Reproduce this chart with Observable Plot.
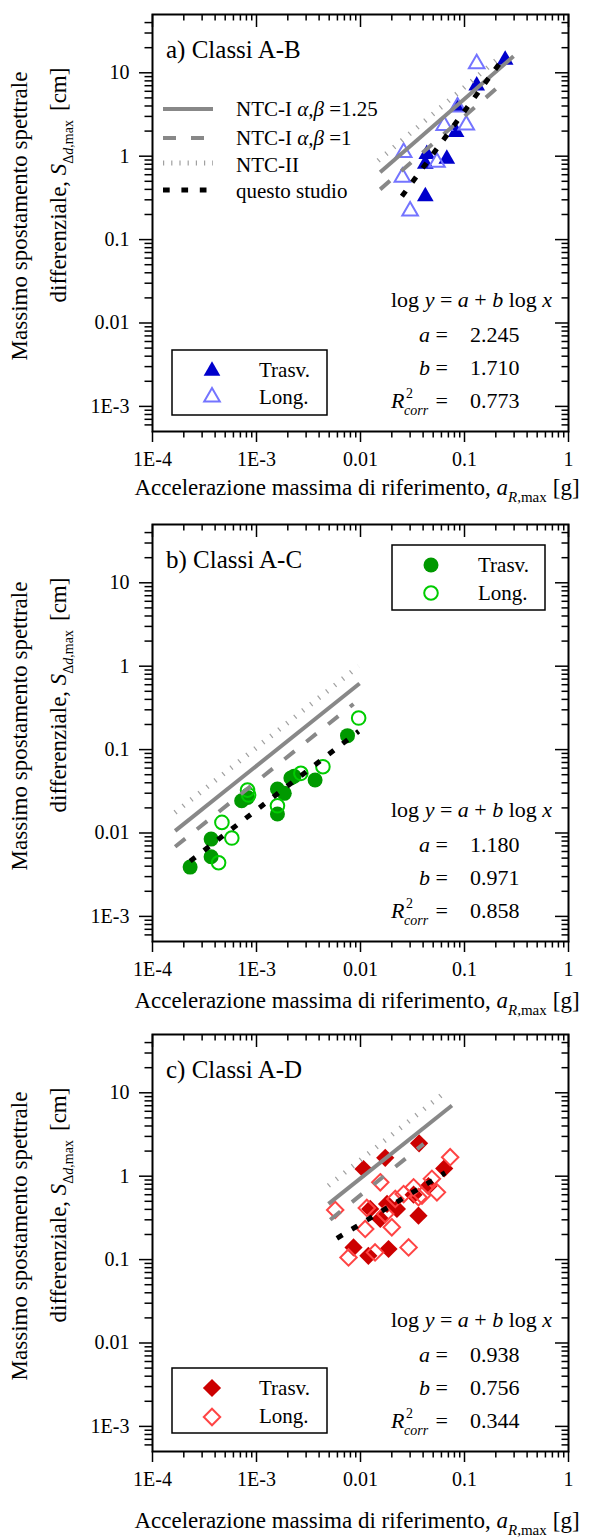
<!DOCTYPE html>
<html><head><meta charset="utf-8">
<script src="https://cdn.jsdelivr.net/npm/d3@7"></script>
<script src="https://cdn.jsdelivr.net/npm/@observablehq/plot@0.6"></script>
<style>
body{margin:0;background:#fff;width:593px;}
#chart svg{display:block;background:#fff}
#chart svg text{font-family:"Liberation Serif","Times New Roman",Times,"DejaVu Serif",serif !important;}
</style></head><body><div id="chart"></div>
<script>
// ---------- axis ticks ----------
const xTicks = [1e-4, 1e-3, 0.01, 0.1, 1];
const xTickLabels = ["1E-4", "1E-3", "0.01", "0.1", "1"];
const yTicks = [1e-3, 0.01, 0.1, 1, 10];
const yTickLabels = ["1E-3", "0.01", "0.1", "1", "10"];

// ---------- texts ----------
const panelTitles = ["a) Classi A-B", "b) Classi A-C", "c) Classi A-D"];
const fitA = ["2.245", "1.180", "0.938"];
const fitB = ["1.710", "0.971", "0.756"];
const fitR2 = ["0.773", "0.858", "0.344"];
const seriesNames = ["Trasv.", "Long."];
const lineNames = ["=1.25", "=1", "NTC-II", "questo studio"];

// ---------- panel a (Classi A-B) ----------
const aTrasvX = [0.246, 0.131, 0.0857, 0.083, 0.0434, 0.042, 0.0676, 0.042];
const aTrasvY = [14.3, 7.0, 3.9, 1.94, 1.06, 0.81, 0.93, 0.33];
const aLongX = [0.131, 0.0857, 0.0638, 0.104, 0.026, 0.0253, 0.0543, 0.030];
const aLongY = [12.8, 3.9, 2.33, 2.37, 1.11, 0.56, 0.845, 0.22];
const aNtc125X = [0.01545, 0.296], aNtc125Y = [0.64, 15.8];
const aNtc1X = [0.01545, 0.229], aNtc1Y = [0.40, 7.4];
const aNtc2X = [0.0148, 0.2], aNtc2Y = [0.885, 14];
const aFitX = [0.025, 0.246], aFitY = [0.33, 16];

// ---------- panel b (Classi A-C) ----------
const bTrasvX = [2.30e-4, 3.66e-4, 3.66e-4, 7.2e-4, 8.2e-4, 1.59e-3, 1.59e-3, 1.85e-3, 2.14e-3, 2.3e-3, 3.66e-3, 7.5e-3];
const bTrasvY = [0.0039, 0.00845, 0.0052, 0.0244, 0.0267, 0.0169, 0.0337, 0.0299, 0.0456, 0.048, 0.0432, 0.147];
const bLongX = [9.6e-3, 4.35e-3, 2.67e-3, 8.2e-4, 8.4e-4, 1.59e-3, 4.65e-4, 5.79e-4, 4.32e-4];
const bLongY = [0.239, 0.0624, 0.0519, 0.0327, 0.0285, 0.0212, 0.0134, 0.0087, 0.0044];
const bNtc125X = [1.65e-4, 9.8e-3], bNtc125Y = [0.0106, 0.62];
const bNtc1X = [1.65e-4, 8.57e-3], bNtc1Y = [0.00684, 0.352];
const bNtc2X = [1.65e-4, 9.6e-3], bNtc2Y = [0.0176, 1.0];
const bFitX = [2.3e-4, 9.6e-3], bFitY = [0.0046, 0.166];

// ---------- panel c (Classi A-D) ----------
const cTrasvX = [0.0366, 0.0173, 0.0107, 0.0638, 0.045, 0.0324, 0.0124, 0.0155, 0.0224, 0.018, 0.0361, 0.00857, 0.0119, 0.0186];
const cTrasvY = [2.48, 1.66, 1.22, 1.24, 0.76, 0.6, 0.405, 0.307, 0.405, 0.465, 0.336, 0.14, 0.111, 0.134];
const cLongX = [0.0728, 0.0155, 0.00571, 0.0115, 0.0173, 0.02, 0.0111, 0.0216, 0.026, 0.0324, 0.039, 0.0486, 0.0543, 0.029, 0.00767, 0.0138, 0.0361];
const cLongY = [1.69, 0.845, 0.394, 0.416, 0.352, 0.244, 0.233, 0.533, 0.61, 0.735, 0.585, 0.93, 0.64, 0.14, 0.106, 0.122, 0.56];
const cNtc125X = [0.00492, 0.0757], cNtc125Y = [0.465, 7.03];
const cNtc1X = [0.00512, 0.0404], cNtc1Y = [0.30, 2.44];
const cNtc2X = [0.00492, 0.0678], cNtc2Y = [0.77, 10.6];
const cFitX = [0.00593, 0.0652], cFitY = [0.18, 1.1];

// ---------- helpers ----------
const zip = (xs, ys) => xs.map((x, i) => ({x, y: ys[i]}));
const F = "Liberation Serif";
const lbl = (ticks, labels) => d => labels[ticks.findIndex(t => Math.abs(t - d) / t < 1e-6)];
const minorX = [1e-4, 1e-3, 1e-2, 1e-1].flatMap(d => [2,3,4,5,6,7,8,9].map(k => k * d));
const minorY = [1e-4, 1e-3, 1e-2, 1e-1, 1, 10].flatMap(d => [2,3,4,5,6,7,8,9].map(k => k * d)).filter(v => v > 5.01e-4 && v < 49.9);

const panels = [
  {i: 0, height: 510, xlabY: 495,
   trasv: zip(aTrasvX, aTrasvY), long: zip(aLongX, aLongY),
   n125: zip(aNtc125X, aNtc125Y), n1: zip(aNtc1X, aNtc1Y), n2: zip(aNtc2X, aNtc2Y), fit: zip(aFitX, aFitY),
   sym: "triangle", symType: d3.symbolTriangle, rF: 6.2, rO: 5.8, colF: "#0000cc", colO: "#7474ff",
   box: {x0: 172, x1: 327, y0: 336, y1: 401, mx: 212, tx: 259, my: [357, 383], ty: [363, 390]},
   lineLegend: true},
  {i: 1, height: 510, xlabY: 498,
   trasv: zip(bTrasvX, bTrasvY), long: zip(bLongX, bLongY),
   n125: zip(bNtc125X, bNtc125Y), n1: zip(bNtc1X, bNtc1Y), n2: zip(bNtc2X, bNtc2Y), fit: zip(bFitX, bFitY),
   sym: "circle", symType: d3.symbolCircle, rF: 7.5, rO: 6.8, colF: "#009900", colO: "#00cc00",
   box: {x0: 392, x1: 545, y0: 21, y1: 86, mx: 431, tx: 478, my: [41, 69], ty: [48, 76]},
   lineLegend: false},
  {i: 2, height: 517, xlabY: 508,
   trasv: zip(cTrasvX, cTrasvY), long: zip(cLongX, cLongY),
   n125: zip(cNtc125X, cNtc125Y), n1: zip(cNtc1X, cNtc1Y), n2: zip(cNtc2X, cNtc2Y), fit: zip(cFitX, cFitY),
   sym: "diamond2", symType: d3.symbolDiamond2, rF: 8.2, rO: 7.4, colF: "#cc0000", colO: "#ff4444",
   box: {x0: 172, x1: 327, y0: 334, y1: 399, mx: 212, tx: 259, my: [354, 383], ty: [361, 389]},
   lineLegend: false}
];

function addText(svg, x, y, parts, {size = 21, anchor = "start", rotate = 0} = {}) {
  const t = svg.append("text").attr("font-family", F).attr("font-size", size)
    .attr("fill", "#000").attr("text-anchor", anchor);
  if (rotate) t.attr("transform", `translate(${x},${y}) rotate(${rotate})`);
  else t.attr("x", x).attr("y", y);
  for (const p of parts) {
    const s = t.append("tspan").text(p.t);
    if (p.i) s.attr("font-style", "italic");
    if (p.size) s.attr("font-size", p.size);
    if (p.dy) s.attr("dy", p.dy);
    if (p.dx) s.attr("dx", p.dx);
  }
  return t;
}

const W = 593, mL = 152, mR = 25, mT = 14, IH = 417, IW = W - mL - mR;
const root = document.getElementById("chart");

for (const p of panels) {
  const H = p.height, mB = H - mT - IH;
  const lineOpt = {x: "x", y: "y", strokeLinecap: "butt"};
  const plot = Plot.plot({
    width: W, height: H, marginLeft: mL, marginRight: mR, marginTop: mT, marginBottom: mB,
    x: {type: "log", domain: [1e-4, 1]},
    y: {type: "log", domain: [5e-4, 50]},
    style: {fontFamily: F, fontSize: "20px", color: "#000", background: "#fff", overflow: "visible"},
    marks: [
      Plot.dot(p.trasv, {x: "x", y: "y", symbol: p.sym, r: p.rF, fill: p.colF, stroke: "none"}),
      Plot.dot(p.long, {x: "x", y: "y", symbol: p.sym, r: p.rO, fill: "none", stroke: p.colO, strokeWidth: 2}),
      Plot.line(p.n2, {...lineOpt, stroke: "#a0a0a0", strokeWidth: 5, strokeDasharray: "1.2,9"}),
      Plot.line(p.n125, {...lineOpt, stroke: "#888", strokeWidth: 4}),
      Plot.line(p.n1, {...lineOpt, stroke: "#888", strokeWidth: 4, strokeDasharray: "13,15"}),
      Plot.line(p.fit, {...lineOpt, stroke: "#000", strokeWidth: 5, strokeDasharray: "6.5,11"}),
      Plot.frame({stroke: "#000", strokeWidth: 2}),
      Plot.axisX({ticks: xTicks, tickFormat: lbl(xTicks, xTickLabels), tickSize: 11, tickPadding: 9, strokeWidth: 1.5, label: null, fontSize: 20}),
      Plot.axisY({ticks: yTicks, tickFormat: lbl(yTicks, yTickLabels), tickSize: 13, tickPadding: 10, strokeWidth: 1.5, label: null, fontSize: 20}),
      Plot.tickX(minorX, {x: d => d, insetTop: IH, insetBottom: -6.5, stroke: "#000", strokeWidth: 1.5}),
      Plot.tickX(minorX, {x: d => d, insetBottom: IH - 6.5, stroke: "#000", strokeWidth: 1.5}),
      Plot.tickX(xTicks, {x: d => d, insetBottom: IH - 13, stroke: "#000", strokeWidth: 1.5}),
      Plot.tickY(minorY, {y: d => d, insetRight: IW, insetLeft: -7.5, stroke: "#000", strokeWidth: 1.5}),
      Plot.tickY(minorY, {y: d => d, insetLeft: IW - 6.5, stroke: "#000", strokeWidth: 1.5}),
      Plot.tickY(yTicks, {y: d => d, insetLeft: IW - 13, stroke: "#000", strokeWidth: 1.5})
    ]
  });
  root.appendChild(plot);
  const svg = d3.select(plot);
  const R = rel => mT + rel;

  addText(svg, 166, R(44), [{t: panelTitles[p.i]}], {size: 25});

  addText(svg, 391, R(293), [{t: "log "}, {t: "y", i: 1}, {t: " = "}, {t: "a", i: 1}, {t: " + "}, {t: "b", i: 1}, {t: " log "}, {t: "x", i: 1}], {size: 22});
  addText(svg, 430, R(328), [{t: "a", i: 1}], {size: 22, anchor: "end"});
  addText(svg, 430, R(361), [{t: "b", i: 1}], {size: 22, anchor: "end"});
  addText(svg, 391, R(394), [{t: "R", i: 1}], {size: 22});
  addText(svg, 406, R(384), [{t: "2"}], {size: 14});
  addText(svg, 404, R(401), [{t: "corr", i: 1}], {size: 14});
  for (const yy of [328, 361, 394]) addText(svg, 448, R(yy), [{t: "="}], {size: 22, anchor: "end"});
  addText(svg, 470, R(328), [{t: fitA[p.i]}], {size: 22});
  addText(svg, 470, R(361), [{t: fitB[p.i]}], {size: 22});
  addText(svg, 470, R(394), [{t: fitR2[p.i]}], {size: 22});

  const b = p.box;
  svg.append("rect").attr("x", b.x0).attr("y", R(b.y0)).attr("width", b.x1 - b.x0).attr("height", b.y1 - b.y0)
    .attr("fill", "#fff").attr("stroke", "#000").attr("stroke-width", 1.5);
  svg.append("path").attr("transform", `translate(${b.mx},${R(b.my[0])})`)
    .attr("d", d3.symbol(p.symType, Math.PI * p.rF * p.rF)()).attr("fill", p.colF);
  svg.append("path").attr("transform", `translate(${b.mx},${R(b.my[1])})`)
    .attr("d", d3.symbol(p.symType, Math.PI * p.rO * p.rO)()).attr("fill", "none").attr("stroke", p.colO).attr("stroke-width", 2);
  addText(svg, b.tx, R(b.ty[0]), [{t: seriesNames[0]}], {size: 21});
  addText(svg, b.tx, R(b.ty[1]), [{t: seriesNames[1]}], {size: 21});

  if (p.lineLegend) {
    const ly = [95, 124, 149, 176], ty = [102, 131, 158, 184];
    const styles = [
      {stroke: "#888", w: 4, dash: null},
      {stroke: "#888", w: 4, dash: "13,15"},
      {stroke: "#a0a0a0", w: 5, dash: "1.2,7"},
      {stroke: "#000", w: 5, dash: "6.7,11.7"}
    ];
    styles.forEach((s, k) => {
      const l = svg.append("line").attr("x1", 163).attr("x2", 213).attr("y1", R(ly[k])).attr("y2", R(ly[k]))
        .attr("stroke", s.stroke).attr("stroke-width", s.w);
      if (s.dash) l.attr("stroke-dasharray", s.dash);
    });
    addText(svg, 236, R(ty[0]), [{t: "NTC-I "}, {t: "α,β", i: 1}, {t: " " + lineNames[0]}], {size: 21});
    addText(svg, 236, R(ty[1]), [{t: "NTC-I "}, {t: "α,β", i: 1}, {t: " " + lineNames[1]}], {size: 21});
    addText(svg, 236, R(ty[2]), [{t: lineNames[2]}], {size: 21});
    addText(svg, 236, R(ty[3]), [{t: lineNames[3]}], {size: 21});
  }

  addText(svg, 357, p.xlabY, [
    {t: "Accelerazione massima di riferimento, "}, {t: "a", i: 1},
    {t: "R", i: 1, size: 15, dy: 7}, {t: ",max", size: 15}, {t: "[g]", dy: -7, dx: 6}
  ], {size: 23, anchor: "middle"});

  addText(svg, 27, 216, [{t: "Massimo spostamento spettrale"}], {size: 23, anchor: "middle", rotate: -90});
  addText(svg, 66, 185, [
    {t: "differenziale, "}, {t: "S", i: 1},
    {t: "Δ", size: 14, dy: 7}, {t: "d", i: 1, size: 14}, {t: ",max", size: 14}, {t: "[cm]", dy: -7, dx: 9}
  ], {size: 23, anchor: "middle", rotate: -90});
}
</script></body></html>
